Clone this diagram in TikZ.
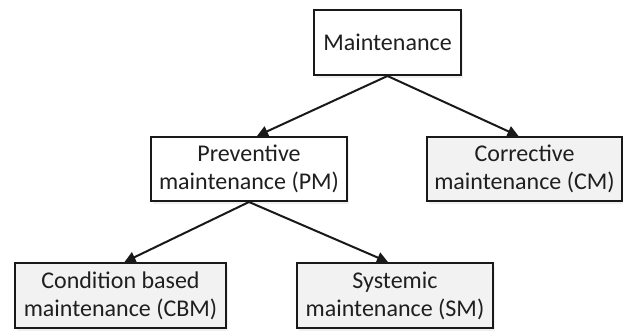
\documentclass[tikz,border=0pt]{standalone}
\usepackage{fontspec}
\setmainfont{Carlito}
\usetikzlibrary{arrows.meta,shadows}
\definecolor{boxgray}{HTML}{F2F2F2}
\tikzset{
  box/.style={draw=black!90, line width=2pt, align=center, inner sep=0pt,
    font=\fontsize{24}{28}\selectfont, text=black!88,
    drop shadow={opacity=0.12, shadow xshift=2pt, shadow yshift=-3pt}},
  plain/.style={box, fill=white},
  leaf/.style={box, fill=boxgray},
  link/.style={line width=2pt, draw=black!90, -{Triangle[length=11pt,width=11pt]}},
}
\begin{document}
\begin{tikzpicture}[x=1pt,y=-1pt]
  \useasboundingbox (0,0) rectangle (623,331);
  \node[plain, minimum width=147pt, minimum height=65pt] (m) at (387.5,42.5) {Maintenance};
  \node[plain, minimum width=196pt, minimum height=64pt] (pm) at (249,169) {Preventive\\maintenance (PM)};
  \node[leaf, minimum width=195pt, minimum height=64pt] (cm) at (524.5,169) {Corrective\\maintenance (CM)};
  \node[leaf, minimum width=211pt, minimum height=65pt] (cbm) at (120.5,295.5) {Condition based\\maintenance (CBM)};
  \node[leaf, minimum width=196pt, minimum height=65pt] (sm) at (395,295.5) {Systemic\\maintenance (SM)};
  \draw[link] (m.south) -- ([xshift=8pt]pm.north);
  \draw[link] (m.south) -- ([xshift=-6pt]cm.north);
  \draw[link] (pm.south) -- ([xshift=4pt]cbm.north);
  \draw[link] (pm.south) -- ([xshift=-7pt]sm.north);
\end{tikzpicture}
\end{document}
